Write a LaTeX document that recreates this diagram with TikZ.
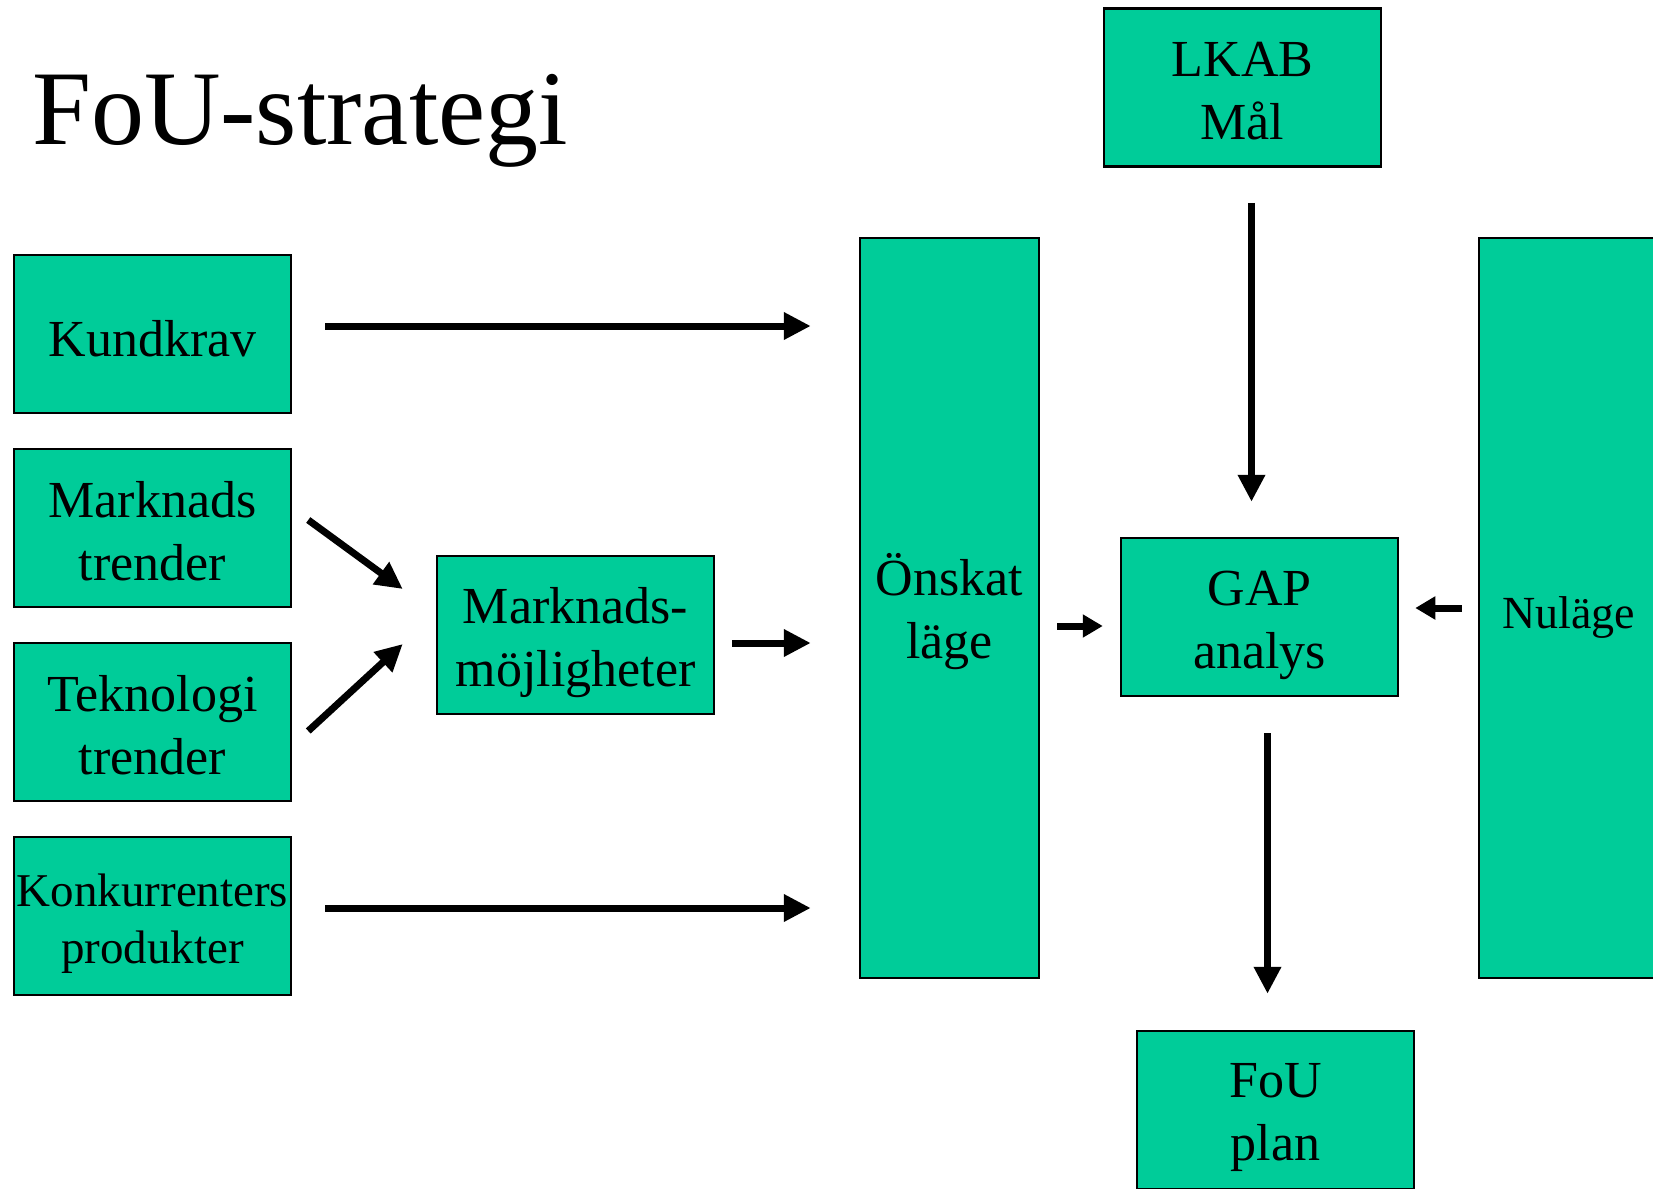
\documentclass[tikz,border=0pt]{standalone}
\usepackage{fontspec}
\setmainfont{Liberation Serif}
\usetikzlibrary{arrows.meta,calc}
\definecolor{tealgreen}{HTML}{00CC99}
\tikzset{
  boxnode/.style={draw=black, line width=2.5pt, fill=tealgreen, inner sep=0pt,
    minimum width=277pt, minimum height=158pt, align=center,
    font=\fontsize{52}{63}\selectfont, text height=104pt, text depth=0pt},
  oneline/.style={text height=44pt, text depth=0pt},
  tallbox/.style={boxnode, minimum width=179pt, minimum height=740pt},
  arr/.style={line width=7pt, -{Triangle[length=27pt,width=26pt]}},
  sarr/.style={line width=7pt, -{Triangle[length=20pt,width=22pt]}},
}
\begin{document}
\begin{tikzpicture}[x=1pt,y=-1pt]
\clip (0,0) rectangle (1653,1188);
\fill[white] (0,0) rectangle (1653,1188);
\node[anchor=base west, inner sep=0pt, font=\fontsize{106}{120}\selectfont] (title) at (32,144) {FoU-strategi};

\node[boxnode] (lkab) at (1242.5,87.5) {LKAB\\Mål};
\node[boxnode, oneline] (kund) at (152.5,334) {Kundkrav};
\node[boxnode] (mt) at (152.5,528) {Marknads\\trender};
\node[boxnode] (tt) at (152.5,722) {Teknologi\\trender};
\node[boxnode, font=\fontsize{47}{57}\selectfont, text height=95pt] (konk) at (152.5,916) {Konkurrenters\\produkter};
\node[boxnode, text height=103pt] (mm) at (575.5,635) {Marknads-\\möjligheter};
\node[tallbox, text height=100pt] (onskat) at (949.5,608) {Önskat\\läge};
\node[boxnode, text height=103pt] (gap) at (1259.5,617) {GAP\\analys};
\node[tallbox, oneline, font=\fontsize{46}{55}\selectfont, text height=40pt] (nu) at (1568.5,608) {Nuläge};
\node[boxnode, text height=101pt] (fou) at (1275.5,1110) {FoU\\plan};

% connectors
\draw[arr] ($(kund.east)+(33,-8)$) -- ($(kund.east -| onskat.west)+(-48,-8)$);
\draw[arr] ($(konk.east)+(33,-8)$) -- ($(konk.east -| onskat.west)+(-48,-8)$);
\draw[arr] ($(mt.east)+(16,-8)$) -- ($(mm.west)+(-33,-46)$);
\draw[arr] ($(tt.east)+(16,9)$) -- ($(mm.west)+(-33,9)$);
\draw[arr] ($(mm.east)+(17,8)$) -- ($(mm.east -| onskat.west)+(-48,8)$);
\draw[sarr] ($(onskat.east)+(17,18)$) -- ($(gap.west)+(-17,9)$);
\draw[sarr] ($(nu.west)+(-16,0)$) -- ($(gap.east)+(16,-9)$);
\draw[arr] ($(lkab.south)+(9,35)$) -- ($(gap.north)+(-8,-35)$);
\draw[arr] ($(gap.south)+(8,36)$) -- ($(fou.north)+(-8,-36)$);
\end{tikzpicture}
\end{document}
